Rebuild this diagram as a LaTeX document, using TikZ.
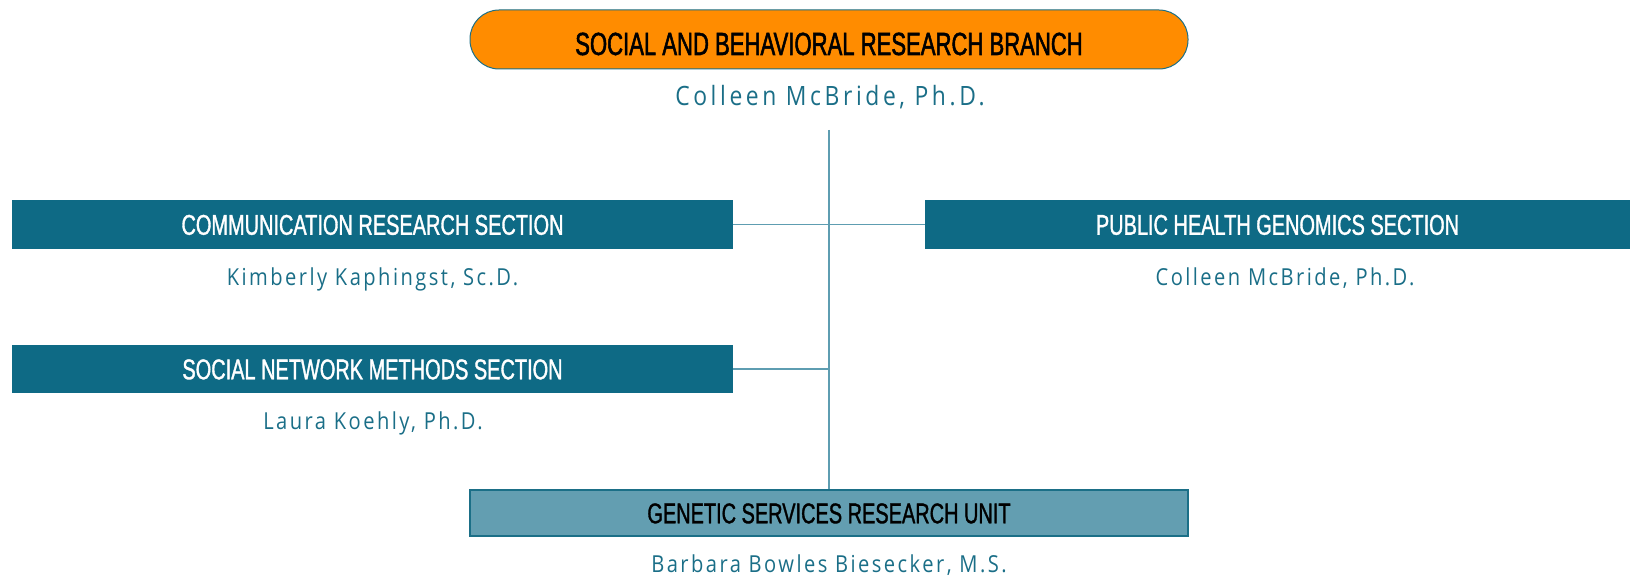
\documentclass[tikz,border=0pt]{standalone}
\usepackage{fontspec}
\newfontfamily\condfont[FakeStretch=0.69,FakeBold=1.6]{Liberation Sans}
\newfontfamily\seccondfont[FakeStretch=0.70,FakeBold=1.2]{Liberation Sans}
\newfontfamily\bignamefont[FakeStretch=0.86,LetterSpace=13.5]{Open Sans}
\newfontfamily\namefont[FakeStretch=0.86,LetterSpace=10.5]{Open Sans}
\definecolor{orangefill}{HTML}{FF8C00}
\definecolor{darkteal}{HTML}{0E6A85}
\definecolor{lightteal}{HTML}{639EB1}
\definecolor{textteal}{HTML}{1A6E87}
\definecolor{linecol}{HTML}{5E9DB1}
\definecolor{bordercol}{HTML}{1B6F87}
\tikzset{
  branchbox/.style={draw=bordercol, line width=1pt, fill=orangefill, rounded corners=29pt,
    minimum width=718pt, minimum height=59pt, inner sep=0pt, text height=31pt, text depth=0pt,
    font={\condfont\fontsize{32}{36}\selectfont}, text=black},
  sectbox/.style={fill=darkteal, minimum width=721pt, minimum height=48pt, inner sep=0pt,
    text height=20.5pt, text depth=0pt,
    font={\seccondfont\fontsize{28.5}{34}\selectfont}, text=white},
  unitbox/.style={draw=bordercol, line width=1.5pt, fill=lightteal, minimum width=718pt, minimum height=46pt, inner sep=0pt,
    text height=20.5pt, text depth=0pt,
    font={\seccondfont\fontsize{28.5}{34}\selectfont}, text=black},
  bignamelabel/.style={inner sep=0pt, text=textteal, text height=19pt, text depth=0pt,
    font={\bignamefont\fontsize{26.6}{32}\selectfont}},
  namelabel/.style={inner sep=0pt, text=textteal, text height=16.7pt, text depth=0pt,
    font={\namefont\fontsize{23.4}{28}\selectfont}},
  conn/.style={draw=linecol, line width=1.5pt}
}
\begin{document}
\begin{tikzpicture}[x=1pt,y=-1pt]
\useasboundingbox (0,0) rectangle (1630,580);
\node[branchbox] (branch) at (829,39.5) {SOCIAL AND BEHAVIORAL RESEARCH BRANCH};
\node[bignamelabel] (branchname) at (830,96) {Colleen McBride, Ph.D.};
\node[sectbox] (comm) at (372.5,224.5) {COMMUNICATION RESEARCH SECTION};
\node[sectbox, minimum width=705pt] (phg) at (1277.5,224.5) {PUBLIC HEALTH GENOMICS SECTION};
\node[namelabel] (commname) at (372.5,276.7) {Kimberly Kaphingst, Sc.D.};
\node[namelabel] (phgname) at (1285,276.7) {Colleen McBride, Ph.D.};
\node[sectbox] (snm) at (372.5,369) {SOCIAL NETWORK METHODS SECTION};
\node[namelabel] (snmname) at (373,421) {Laura Koehly, Ph.D.};
\node[unitbox] (unit) at (829,513) {GENETIC SERVICES RESEARCH UNIT};
\node[namelabel] (unitname) at (829,563.7) {Barbara Bowles Biesecker, M.S.};
\coordinate (vtop) at (829,130);
\draw[conn] (vtop) -- (unit.north);
\draw[conn] (comm.east) -- (phg.west);
\draw[conn] (snm.east) -- (snm.east -| vtop);
\end{tikzpicture}
\end{document}
